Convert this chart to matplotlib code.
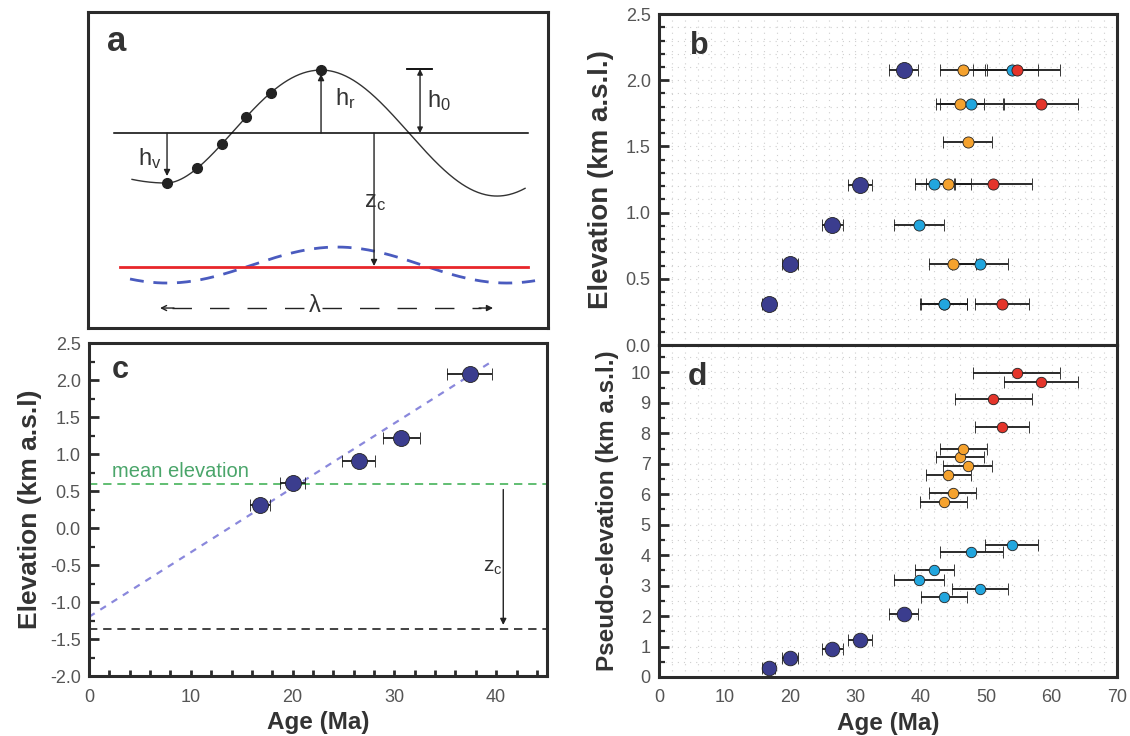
import numpy as np
import matplotlib
matplotlib.use('Agg')
import matplotlib.pyplot as plt
from matplotlib.ticker import MultipleLocator

plt.rcParams['font.family'] = ['Liberation Sans', 'DejaVu Sans']
plt.rcParams['mathtext.default'] = 'regular'

# --- Veriler ---
# koyu mavi (c panelindeki örnekler)
db_age = [16.8, 20.0, 26.5, 30.7, 37.4]
db_err = [1.0, 1.25, 1.6, 1.85, 2.2]
db_elev = [0.31, 0.61, 0.91, 1.21, 2.08]
db_pseudo = [0.30, 0.62, 0.92, 1.22, 2.08]

# açık mavi
cy_age = [43.5, 49.1, 39.7, 42.1, 47.7, 53.9]
cy_err = [3.5, 4.3, 3.8, 3.0, 4.8, 4.05]
cy_elev = [0.31, 0.61, 0.91, 1.22, 1.82, 2.08]
cy_pseudo = [2.61, 2.89, 3.19, 3.50, 4.10, 4.34]

# turuncu
or_age = [43.5, 44.9, 44.2, 47.15, 46.0, 46.5]
or_err = [3.6, 3.6, 3.45, 3.7, 3.7, 3.6]
or_elev = [0.31, 0.61, 1.22, 1.53, 1.82, 2.08]
or_pseudo = [5.74, 6.05, 6.63, 6.94, 7.21, 7.49]

# kırmızı
rd_age = [52.4, 51.1, 58.4, 54.7]
rd_err = [4.1, 5.85, 5.6, 6.65]
rd_elev = [0.31, 1.22, 1.82, 2.08]
rd_pseudo = [8.22, 9.11, 9.69, 9.99]

# c paneli: regresyon çizgisi uçları, ortalama yükseklik, z_c seviyesi
fit_age = [0.0, 39.8]
fit_elev = [-1.2, 2.27]
mean_elev = 0.6
zc_level = -1.37

# a paneli: şematik (yerel piksel benzeri koordinatlar)
sample_x = [79, 109, 134, 158, 183, 233]
mean_line_y = 195
red_line_y = 61

DARK = '#3b3d8e'
CYAN = '#22a6de'
ORANGE = '#f5a22e'
RED = '#e4352b'
FRAME = '#2b2b2b'
TXT = '#333333'
TICK = '#555555'

fig = plt.figure(figsize=(11.3, 7.36), dpi=100)
ax_a = fig.add_axes([0.0779, 0.5543, 0.4071, 0.4293])
ax_b = fig.add_axes([0.5832, 0.5312, 0.4053, 0.4497])
ax_d = fig.add_axes([0.5832, 0.0802, 0.4053, 0.4511])
ax_c = fig.add_axes([0.0788, 0.0815, 0.4053, 0.4524])

for ax in (ax_a, ax_b, ax_c, ax_d):
    for s in ax.spines.values():
        s.set_linewidth(2.2)
        s.set_color(FRAME)


# ---------------- a: şematik ----------------
def topo(x):
    x = np.asarray(x, float)
    y = np.empty_like(x)
    left = x < 79
    mid = (x >= 79) & (x <= 233)
    right = x > 233
    y[left] = 145 + 0.003 * (79 - x[left]) ** 2
    t = (x[mid] - 79) / 154
    y[mid] = 145 + 113 * (1 - np.cos(np.pi * t ** 0.887)) / 2
    y[right] = 195 + 63 * np.cos(np.pi * (x[right] - 233) / 176)
    return y


ax_a.set_xlim(0, 460)
ax_a.set_ylim(0, 316)
ax_a.set_xticks([])
ax_a.set_yticks([])

xx = np.linspace(44, 437, 400)
ax_a.plot(xx, topo(xx), color='#333333', lw=1.0)
ax_a.plot(sample_x, topo(sample_x), 'o', color='#222222', ms=7)
ax_a.plot([26, 440], [mean_line_y, mean_line_y], color='black', lw=1.1)

bx = np.linspace(42, 447, 300)
ax_a.plot(bx, 63 + 18 * np.cos(2 * np.pi * (bx - 249) / 340), color='#4a5bbf',
          lw=2, dashes=(5, 3.5))
ax_a.plot([32, 440], [red_line_y, red_line_y], color='#e8262a', lw=2)

arw = dict(arrowstyle='-|>', color='#222222', lw=1.0, mutation_scale=9,
           shrinkA=0, shrinkB=0)
ax_a.annotate('', xy=(79, 152), xytext=(79, mean_line_y), arrowprops=arw)
ax_a.annotate('', xy=(233, 254), xytext=(233, mean_line_y), arrowprops=arw)
ax_a.annotate('', xy=(286, red_line_y + 1), xytext=(286, mean_line_y), arrowprops=arw)
ax_a.annotate('', xy=(332, 259), xytext=(332, mean_line_y),
              arrowprops=dict(arrowstyle='<|-|>', color='#222222', lw=1.0,
                              mutation_scale=8, shrinkA=0, shrinkB=0))
ax_a.plot([319, 344], [259, 259], color='black', lw=1.3)

ax_a.text(247, 230, 'h$_{r}$', fontsize=17, color=TXT, va='center', ha='left')
ax_a.text(339, 228, 'h$_{0}$', fontsize=17, color=TXT, va='center', ha='left')
ax_a.text(50, 170, 'h$_{v}$', fontsize=17, color=TXT, va='center', ha='left')
ax_a.text(287, 126, 'z$_{c}$', fontsize=17, color=TXT, va='center', ha='center')

# λ oku
ax_a.plot([84, 393], [20, 20], color='#222222', lw=1.0, dashes=(14, 13))
ax_a.annotate('', xy=(72, 20), xytext=(86, 20),
              arrowprops=dict(arrowstyle='->', color='#222222', lw=1.0,
                              mutation_scale=9, shrinkA=0, shrinkB=0))
ax_a.annotate('', xy=(405, 20), xytext=(391, 20),
              arrowprops=dict(arrowstyle='-|>', color='#222222', lw=1.0,
                              mutation_scale=9, shrinkA=0, shrinkB=0))
ax_a.text(227, 22, 'λ', fontsize=17, color=TXT, ha='center', va='center',
          bbox=dict(facecolor='white', edgecolor='none', pad=1))
ax_a.text(19, 287, 'a', fontsize=25, fontweight='bold', color=TXT,
          ha='left', va='center')


# ---------------- ortak stil ----------------
def grid_style(ax):
    ax.grid(which='both', color='#cfcfcf', linestyle=(0, (1, 4.5)), lw=0.8)
    ax.set_axisbelow(True)


def pts(ax, x, xe, y, color, ms):
    ax.errorbar(x, y, xerr=xe, fmt='o', color=color, mec='#222222', mew=0.6,
                ms=ms, ecolor='#1a1a1a', elinewidth=1.3, capsize=4,
                capthick=1.3, zorder=3)


# ---------------- b ----------------
ax_b.set_xlim(0, 70)
ax_b.set_ylim(0, 2.5)
ax_b.xaxis.set_major_locator(MultipleLocator(10))
ax_b.xaxis.set_minor_locator(MultipleLocator(2))
ax_b.yaxis.set_major_locator(MultipleLocator(0.5))
ax_b.yaxis.set_minor_locator(MultipleLocator(0.1))
ax_b.tick_params(axis='x', which='both', length=0, labelbottom=False)
ax_b.tick_params(axis='y', which='major', direction='in', length=7, width=2,
                 labelsize=13, labelcolor=TICK, color=FRAME, pad=6)
ax_b.tick_params(axis='y', which='minor', direction='in', length=4, width=1.6,
                 color=FRAME)
ax_b.yaxis.set_major_formatter(matplotlib.ticker.FormatStrFormatter('%.1f'))
grid_style(ax_b)
pts(ax_b, db_age, db_err, db_elev, DARK, 11.5)
pts(ax_b, or_age, or_err, or_elev, ORANGE, 8)
pts(ax_b, cy_age, cy_err, cy_elev, CYAN, 8)
pts(ax_b, rd_age, rd_err, rd_elev, RED, 8)
ax_b.set_ylabel('Elevation (km a.s.l.)', fontsize=20, fontweight='bold',
                color=TXT, labelpad=8)
ax_b.text(0.068, 0.905, 'b', transform=ax_b.transAxes, fontsize=22,
          fontweight='bold', color=TXT, ha='left', va='center')

# ---------------- d ----------------
ax_d.set_xlim(0, 70)
ax_d.set_ylim(0, 10.9)
ax_d.xaxis.set_major_locator(MultipleLocator(10))
ax_d.xaxis.set_minor_locator(MultipleLocator(2))
ax_d.yaxis.set_major_locator(MultipleLocator(1))
ax_d.yaxis.set_minor_locator(MultipleLocator(0.5))
ax_d.tick_params(axis='x', which='both', length=0, labelsize=13,
                 labelcolor=TICK, pad=9)
ax_d.tick_params(axis='y', which='major', direction='in', length=7, width=2,
                 labelsize=13, labelcolor=TICK, color=FRAME, pad=6)
ax_d.tick_params(axis='y', which='minor', direction='in', length=4, width=1.6,
                 color=FRAME)
grid_style(ax_d)
pts(ax_d, db_age, db_err, db_pseudo, DARK, 10.5)
pts(ax_d, cy_age, cy_err, cy_pseudo, CYAN, 7.5)
pts(ax_d, or_age, or_err, or_pseudo, ORANGE, 7.5)
pts(ax_d, rd_age, rd_err, rd_pseudo, RED, 7.5)
ax_d.set_ylabel('Pseudo-elevation (km a.s.l.)', fontsize=17.5,
                fontweight='bold', color=TXT, labelpad=8)
ax_d.set_xlabel('Age (Ma)', fontsize=17.5, fontweight='bold', color=TXT,
                labelpad=4)
ax_d.text(0.063, 0.905, 'd', transform=ax_d.transAxes, fontsize=23,
          fontweight='bold', color=TXT, ha='left', va='center')

# ---------------- c ----------------
ax_c.set_xlim(0, 45)
ax_c.set_ylim(-2.0, 2.5)
ax_c.xaxis.set_major_locator(MultipleLocator(10))
ax_c.xaxis.set_minor_locator(MultipleLocator(2))
ax_c.yaxis.set_major_locator(MultipleLocator(0.5))
ax_c.yaxis.set_minor_locator(MultipleLocator(0.25))
ax_c.yaxis.set_major_formatter(matplotlib.ticker.FormatStrFormatter('%.1f'))
ax_c.tick_params(axis='x', which='both', direction='in', length=4, width=2,
                 labelsize=13, labelcolor=TICK, color=FRAME, pad=9)
ax_c.tick_params(axis='y', which='major', direction='in', length=7, width=2,
                 labelsize=13, labelcolor=TICK, color=FRAME, pad=6)
ax_c.tick_params(axis='y', which='minor', direction='in', length=4, width=1.6,
                 color=FRAME)
ax_c.plot(fit_age, fit_elev, color='#8a88dc', lw=1.6, dashes=(3, 3))
ax_c.axhline(mean_elev, color='#46b35a', lw=1.2, dashes=(5, 3.5))
ax_c.axhline(zc_level, color='#222222', lw=1.2, dashes=(5, 3.5))
pts(ax_c, db_age, db_err, db_elev, DARK, 11.5)
ax_c.text(2.3, 0.63, 'mean elevation', fontsize=14.5, color='#4aa56a',
          ha='left', va='bottom')
ax_c.annotate('', xy=(40.7, zc_level + 0.06), xytext=(40.7, mean_elev - 0.08),
              arrowprops=dict(arrowstyle='-|>', color='#222222', lw=1.0,
                              mutation_scale=9, shrinkA=0, shrinkB=0))
ax_c.text(38.7, -0.53, 'z$_{c}$', fontsize=15, color=TXT, ha='left',
          va='center')
ax_c.set_ylabel('Elevation (km a.s.l)', fontsize=19, fontweight='bold',
                color=TXT, labelpad=6)
ax_c.set_xlabel('Age (Ma)', fontsize=17.5, fontweight='bold', color=TXT,
                labelpad=4)
ax_c.text(0.05, 0.92, 'c', transform=ax_c.transAxes, fontsize=22,
          fontweight='bold', color=TXT, ha='left', va='center')

fig.savefig('out.png', dpi=100)
